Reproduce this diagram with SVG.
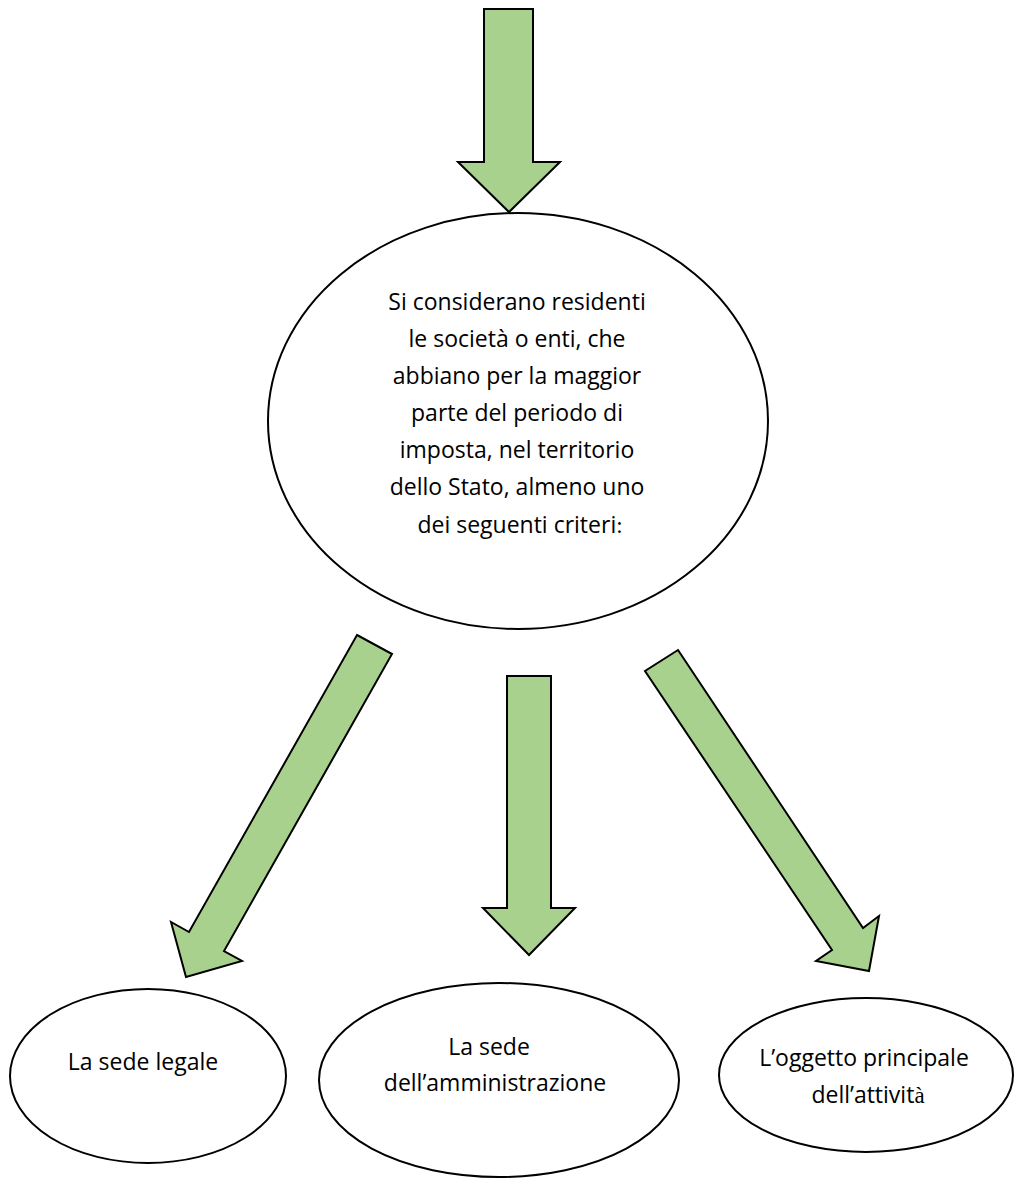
<svg xmlns="http://www.w3.org/2000/svg" width="1014" height="1178" viewBox="0 0 1014 1178">
  <style>
    .arrow { fill: #A9D18E; stroke: #000; stroke-width: 2; stroke-linejoin: miter; }
    .node { fill: #fff; stroke: #000; stroke-width: 2; }
    .label { font-family: "Open Sans", "Noto Sans", sans-serif; font-size: 23px; fill: #000; text-anchor: middle; }
    .serif { font-family: "Liberation Serif", serif; }
  </style>
  <rect width="1014" height="1178" fill="#fff"/>

  <!-- block arrows -->
  <g id="connectors">
    <polygon class="arrow" points="484,9 533,9 533,162 560,162 509,212 458,162 484,162"/>
    <polygon class="arrow" points="357,635 392,654 224,951 242,961 186,977 171,922 189,932"/>
    <polygon class="arrow" points="507,676 551,676 551,908 575,908 529,955 483,908 507,908"/>
    <polygon class="arrow" points="678,650 863,928 879,916 869,971 816,961 832,950 645,671"/>
  </g>

  <g id="criteria">
    <ellipse class="node" cx="518" cy="421" rx="250" ry="208"/>
    <text class="label">
      <tspan x="520" y="310">Si considerano residenti</tspan>
      <tspan x="520" y="347">le società o enti, che</tspan>
      <tspan x="520" y="384">abbiano per la maggior</tspan>
      <tspan x="520" y="421">parte del periodo di</tspan>
      <tspan x="520" y="458">imposta, nel territorio</tspan>
      <tspan x="520" y="495">dello Stato, almeno uno</tspan>
      <tspan x="520" y="533">dei seguenti criteri<tspan class="serif">:</tspan></tspan>
    </text>
  </g>

  <g id="sede-legale">
    <ellipse class="node" cx="148" cy="1076" rx="138" ry="87"/>
    <text class="label" x="143" y="1070">La sede legale</text>
  </g>

  <g id="sede-amministrazione">
    <ellipse class="node" cx="499" cy="1080" rx="180" ry="97"/>
    <text class="label">
      <tspan x="492" y="1055">La sede</tspan>
      <tspan x="495" y="1091">dell’amministrazione</tspan>
    </text>
  </g>

  <g id="oggetto-principale">
    <ellipse class="node" cx="866" cy="1075" rx="147" ry="77"/>
    <text class="label">
      <tspan x="867" y="1066">L’oggetto principale</tspan>
      <tspan x="868" y="1103">dell’attivit<tspan class="serif">à</tspan></tspan>
    </text>
  </g>
</svg>
